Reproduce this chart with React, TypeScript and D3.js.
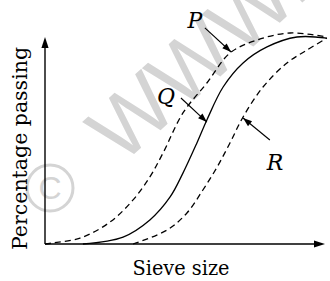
import * as d3 from "d3";

// sieve size (0-100, relative) vs percentage passing
const pSize = [0, 2.8, 12.3, 22.8, 30.9, 36.8, 41.4, 48.4, 56.8, 64.9, 74.4, 86, 98.9];
const pPass = [0, 0.5, 2.8, 10.4, 20.9, 31.8, 43.1, 62.1, 76.3, 90.5, 96.7, 100, 98.1];

const qSize = [13.3, 27.4, 36.8, 43.9, 48.4, 53.3, 56.8, 62.5, 69.5, 77.9, 88.4, 98.9];
const qPass = [0, 3.3, 11.4, 22.3, 33.6, 47.9, 58.8, 74.4, 85.8, 93.4, 98.1, 97.6];

const rSize = [30.9, 42.8, 49.8, 55.4, 60.4, 64.9, 69.5, 76.5, 84.9, 91.9, 98.9];
const rPass = [0, 6.6, 14.7, 25.6, 36.5, 47.9, 60.2, 74.4, 85.8, 91.9, 97.6];

const curveNames = ["P", "Q", "R"];
const curveDashed = [true, false, true];

// label callouts: label position, arrow tail, arrow tip (data units)
const labelAt = [[52.6, 105.5], [42.5, 69.7], [80.7, 38.4]];
const arrowFrom = [[56.1, 102.4], [47.7, 69.2], [78.9, 49.3]];
const arrowTo = [[65.3, 91], [56.8, 57.8], [69.5, 59.7]];

const W = 330;
const H = 281;

const App = () => {
  const x = d3.scaleLinear().domain([0, 100]).range([45, 330]);
  const y = d3.scaleLinear().domain([0, 100]).range([244, 33]);

  const line = d3
    .line<[number, number]>()
    .x((d) => x(d[0]))
    .y((d) => y(d[1]))
    .curve(d3.curveCatmullRom.alpha(0.5));

  const series = [
    d3.zip(pSize, pPass) as [number, number][],
    d3.zip(qSize, qPass) as [number, number][],
    d3.zip(rSize, rPass) as [number, number][],
  ];

  const serif = "DejaVu Serif, Liberation Serif, serif";

  // arrowhead polygon pointing from (x0,y0) to (x1,y1)
  const head = (x0: number, y0: number, x1: number, y1: number, len = 9, half = 3.2) => {
    const a = Math.atan2(y1 - y0, x1 - x0);
    const bx = x1 - len * Math.cos(a);
    const by = y1 - len * Math.sin(a);
    const nx = -Math.sin(a) * half;
    const ny = Math.cos(a) * half;
    return `${x1},${y1} ${bx + nx},${by + ny} ${bx - nx},${by - ny}`;
  };

  const axisY0 = y(0);
  const axisX0 = x(0);
  const xTip = 325;
  const yTip = 37;

  return (
    <svg
      width={W}
      height={H}
      style={{ position: "absolute", left: 0, top: 0, background: "#fff" }}
    >
      {/* watermark */}
      <g fill="#d4d4d4" stroke="none">
        <text
          x={314}
          y={-8}
          fontFamily="Liberation Sans"
          fontSize={85}
          textAnchor="end"
          transform="rotate(-42 314 -8)"
        >
          WWW.
        </text>
        <circle cx={50} cy={188} r={23} fill="none" stroke="#d4d4d4" strokeWidth={3} />
        <text x={50} y={199} fontFamily="Liberation Sans" fontSize={32} textAnchor="middle">
          C
        </text>
      </g>

      {/* axes */}
      <line x1={axisX0} y1={axisY0} x2={xTip - 6} y2={axisY0} stroke="#000" strokeWidth={1.4} />
      <polygon points={head(axisX0, axisY0, xTip, axisY0, 11, 3.6)} fill="#000" />
      <line x1={axisX0} y1={axisY0} x2={axisX0} y2={yTip + 6} stroke="#000" strokeWidth={1.4} />
      <polygon points={head(axisX0, axisY0, axisX0, yTip, 11, 3.6)} fill="#000" />

      {/* curves */}
      {series.map((s, i) => (
        <path
          key={curveNames[i]}
          d={line(s) ?? ""}
          fill="none"
          stroke="#000"
          strokeWidth={1.3}
          strokeDasharray={curveDashed[i] ? "6 4" : undefined}
        />
      ))}

      {/* callouts */}
      {curveNames.map((n, i) => {
        const x0 = x(arrowFrom[i][0]);
        const y0 = y(arrowFrom[i][1]);
        const x1 = x(arrowTo[i][0]);
        const y1 = y(arrowTo[i][1]);
        return (
          <g key={n}>
            <line x1={x0} y1={y0} x2={x1} y2={y1} stroke="#000" strokeWidth={1.1} />
            <polygon points={head(x0, y0, x1, y1)} fill="#000" />
            <text
              x={x(labelAt[i][0])}
              y={y(labelAt[i][1]) + 7}
              fontFamily={serif}
              fontStyle="italic"
              fontSize={22}
              textAnchor="middle"
            >
              {n}
            </text>
          </g>
        );
      })}

      {/* axis titles */}
      <text
        x={181}
        y={275}
        fontFamily={serif}
        fontSize={21}
        textAnchor="middle"
        textLength={97}
        lengthAdjust="spacingAndGlyphs"
      >
        Sieve size
      </text>
      <text
        transform="translate(27,250) rotate(-90)"
        x={0}
        y={0}
        fontFamily={serif}
        fontSize={21}
        textLength={203}
        lengthAdjust="spacingAndGlyphs"
      >
        Percentage passing
      </text>
    </svg>
  );
};

export default App;
